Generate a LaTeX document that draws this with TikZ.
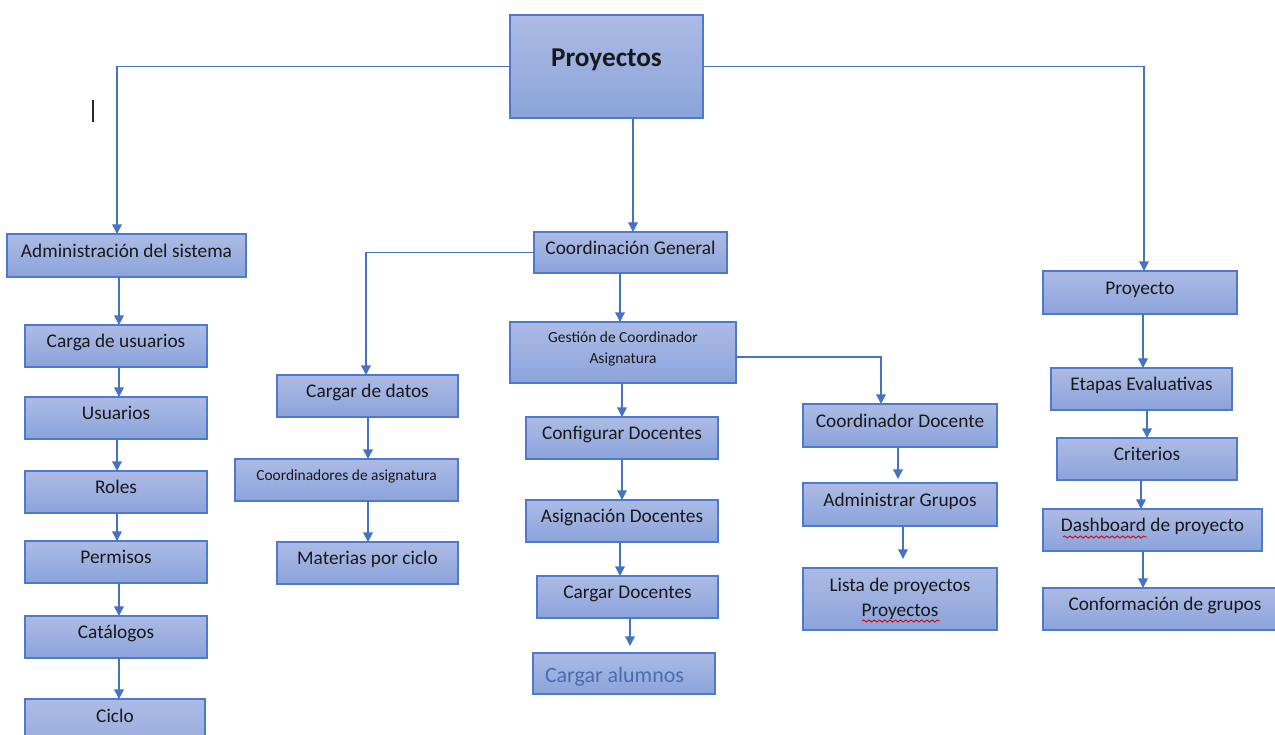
\documentclass[tikz,border=0pt]{standalone}
\usepackage{fontspec}
\setmainfont{Carlito}
\usetikzlibrary{arrows.meta,decorations.pathmorphing}

\definecolor{boxtop}{HTML}{ACBBE4}
\definecolor{boxbot}{HTML}{8BA3DB}
\definecolor{boxline}{HTML}{4F7ACB}
\definecolor{conncol}{HTML}{4472C4}
\definecolor{bluetext}{HTML}{4A6DB0}

\tikzset{
  ubox/.style={draw=boxline, line width=1pt, top color=boxtop, bottom color=boxbot,
    inner sep=0pt, outer sep=0pt, font=\fontsize{11}{12}\selectfont, text=black!90},
  oneline/.style={text height=7.2pt, text depth=5pt},
  conn/.style={draw=conncol, line width=0.8pt, -{Triangle[length=5.5pt,width=5.5pt]}},
  spell/.style={draw=red!85!black, line width=0.5pt,
    decorate, decoration={snake, segment length=3pt, amplitude=0.6pt}}
}

% box given by its corners in pixel units: name, x1, y1, x2, y2, text
\newcommand\ubox[7][]{%
  \node[ubox, oneline, #1, minimum width={(#5-#3)*0.02cm}, minimum height={(#6-#4)*0.02cm}]
    (#2) at ({(#3+#5)/2},{(#4+#6)/2}) {#7};}

\begin{document}
\begin{tikzpicture}[x=0.02cm, y=-0.02cm]
\useasboundingbox (0,0) rectangle (1275,734);

% root
\ubox[font=\fontsize{15.5}{17}\selectfont\bfseries, text height=8pt, text depth=8pt]{proy}{510}{15}{703}{118}{Proyectos}

% left branch
\ubox{admin}{7}{234}{246}{277}{Administración del sistema}
\ubox{carga}{25}{325}{207}{367}{Carga de usuarios}
\ubox{usuarios}{25}{397}{207}{439}{Usuarios}
\ubox{roles}{25}{471}{207}{513}{Roles}
\ubox{permisos}{25}{541}{207}{583}{Permisos}
\ubox{catalogos}{25}{616}{207}{658}{Catálogos}
\ubox{ciclo}{25}{699}{205}{770}{}
\node[font=\fontsize{11}{12}\selectfont, text=black!90, anchor=base] (ciclot) at (115,722) {Ciclo};

% middle branch
\ubox{cg}{534}{232}{727}{273}{Coordinación General}
\ubox{cdatos}{277}{375}{458}{417}{Cargar de datos}
\ubox[font=\fontsize{8.8}{10}\selectfont, text height=6pt, text depth=6pt]{coordasig}{235}{459}{458}{501}{Coordinadores de asignatura}
\ubox{materias}{277}{542}{458}{584}{Materias por ciclo}

\ubox[font=\fontsize{8.8}{12}\selectfont, align=center, text height=13.8pt, text depth=1.7pt]{gestion}{510}{322}{736}{383}{Gestión de Coordinador\\Asignatura}
\ubox{config}{526}{417}{718}{459}{Configurar Docentes}
\ubox{asigdoc}{526}{500}{718}{542}{Asignación Docentes}
\ubox{cdoc}{537}{576}{718}{618}{Cargar Docentes}
\ubox[font=\fontsize{12.5}{14}\selectfont, text=bluetext, text width=158*0.02cm, align=flush left, text height=10.4pt, text depth=0pt]{calum}{533}{653}{715}{694}{Cargar alumnos}

\ubox{codoc}{803}{404}{997}{447}{Coordinador Docente}
\ubox{admgr}{803}{483}{997}{526}{Administrar Grupos}
\ubox[align=center, font=\fontsize{11}{14}\selectfont, text height=21.5pt, text depth=2pt]{lista}{803}{568}{997}{630}{Lista de proyectos\\Proyectos}

% right branch
\ubox{proyecto}{1043}{271}{1237}{314}{Proyecto}
\ubox{etapas}{1051}{368}{1232}{410}{Etapas Evaluativas}
\ubox{criterios}{1057}{438}{1237}{480}{Criterios}
\ubox{dash}{1043}{509}{1262}{551}{Dashboard de proyecto}
\ubox{conform}{1043}{588}{1287}{630}{Conformación de grupos}

% spell-check underlines
\draw[spell] (1063,537) -- (1147,537);
\draw[spell] (862,621) -- (940,621);

% text cursor mark
\draw[line width=0.8pt, black!85] (93,100) -- (93,122);

% connectors from the root
\draw[conn] (proy.west) -| (117,0 |- admin.north);
\draw[conn] (proy.east) -| (1144,0 |- proyecto.north);
\draw[conn] (633,0 |- proy.south) -- (633,0 |- cg.north);

% left chain
\draw[conn] (119,0 |- admin.south) -- (119,0 |- carga.north);
\draw[conn] (119,0 |- carga.south) -- (119,0 |- usuarios.north);
\draw[conn] (117,0 |- usuarios.south) -- (117,0 |- roles.north);
\draw[conn] (117,0 |- roles.south) -- (117,0 |- permisos.north);
\draw[conn] (119,0 |- permisos.south) -- (119,0 |- catalogos.north);
\draw[conn] (119,0 |- catalogos.south) -- (119,0 |- ciclo.north);

% middle connectors
\draw[conn] (cg.west) -| (366,0 |- cdatos.north);
\draw[conn] (620,0 |- cg.south) -- (620,0 |- gestion.north);
\draw[conn] (368,0 |- cdatos.south) -- (368,0 |- coordasig.north);
\draw[conn] (368,0 |- coordasig.south) -- (368,0 |- materias.north);
\draw[conn] (gestion.east |- 0,357) -| (881,0 |- codoc.north);
\draw[conn] (622,0 |- gestion.south) -- (622,0 |- config.north);
\draw[conn] (622,0 |- config.south) -- (622,0 |- asigdoc.north);
\draw[conn] (620,0 |- asigdoc.south) -- (620,0 |- cdoc.north);
\coordinate (calumtip) at (630,646);
\draw[conn] (630,0 |- cdoc.south) -- (calumtip);

\coordinate (admgrtip) at (898,479);
\coordinate (listatip) at (903,559);
\draw[conn] (898,0 |- codoc.south) -- (admgrtip);
\draw[conn] (903,0 |- admgr.south) -- (listatip);

% right chain
\draw[conn] (1143,0 |- proyecto.south) -- (1143,0 |- etapas.north);
\draw[conn] (1147,0 |- etapas.south) -- (1147,0 |- criterios.north);
\draw[conn] (1141,0 |- criterios.south) -- (1141,0 |- dash.north);
\draw[conn] (1143,0 |- dash.south) -- (1143,0 |- conform.north);
\end{tikzpicture}
\end{document}
